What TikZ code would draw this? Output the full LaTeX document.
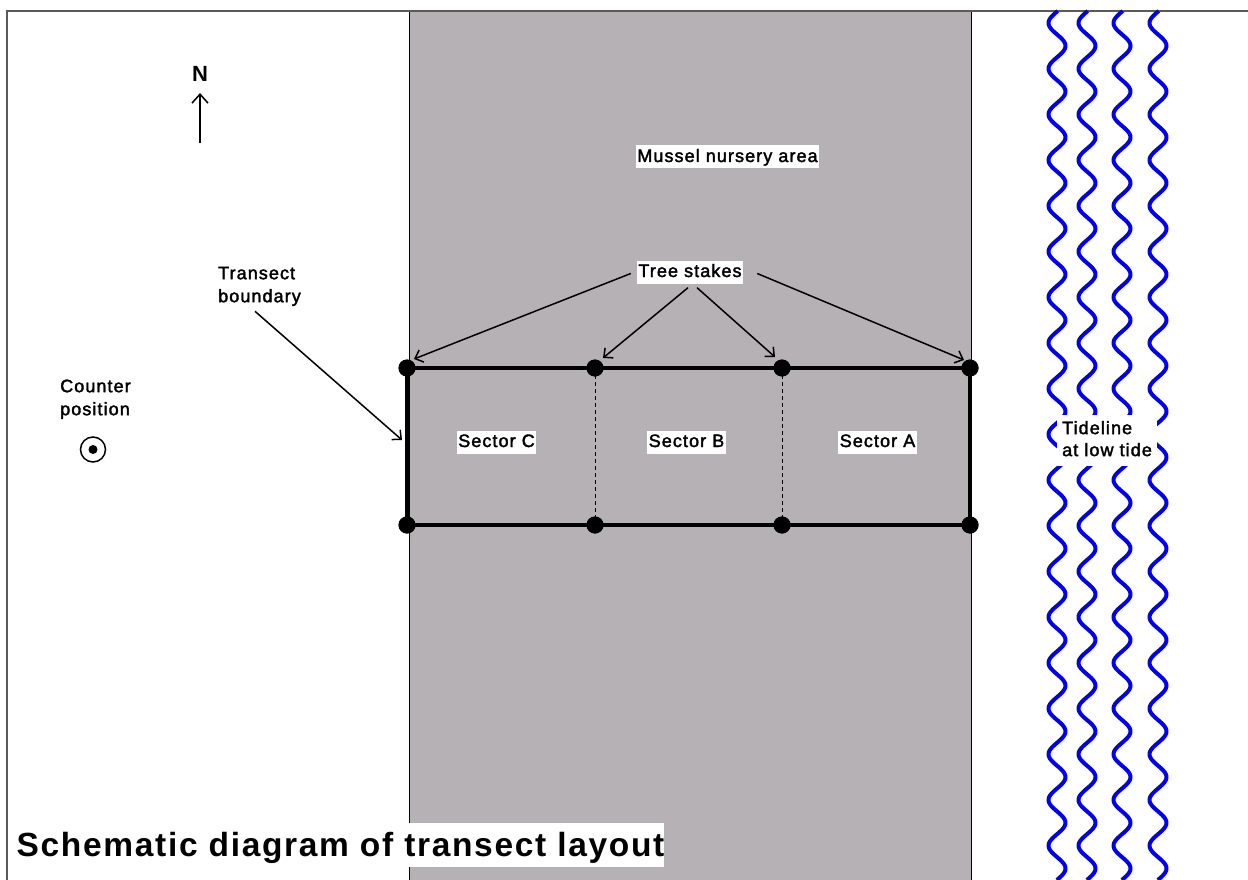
\documentclass[tikz,border=0pt]{standalone}
\usepackage{fontspec}
\setmainfont{Liberation Sans}
\newfontfamily\lblfont[LetterSpace=6,FakeBold=2]{Liberation Sans}
\newfontfamily\ttlfont[LetterSpace=5]{Liberation Sans}
\usetikzlibrary{arrows.meta,calc}
\definecolor{bandgray}{RGB}{181,177,181}
\definecolor{framegray}{RGB}{90,90,90}
\definecolor{waveblue}{RGB}{0,0,235}
\tikzset{
  lbl/.style={font=\lblfont\fontsize{18}{23}\selectfont, inner sep=0pt},
  wlbl/.style={lbl, fill=white, text height=16pt, text depth=6pt, inner xsep=1.5pt, inner ysep=0.5pt},
  stake/.style={circle, fill=black, minimum size=17pt, inner sep=0pt},
  arr/.style={-{Straight Barb[length=7pt,width=13pt]}, line width=1.5pt},
  wave/.style={draw=waveblue, line width=4pt, line join=round},
  boxline/.style={line width=4pt, line join=miter},
  divline/.style={line width=0.9pt, dash pattern=on 4pt off 3pt}
}
\begin{document}
\begin{tikzpicture}[x=1pt,y=-1pt]
\useasboundingbox (0,0) rectangle (1248,880);
\fill[white] (0,0) rectangle (1248,880);
% nursery band
\fill[bandgray] (409,11) rectangle (971,880);
\draw[line width=1pt] (409,11) -- (409,880) (971,11) -- (971,880);
% frame
\draw[framegray, line width=2pt] (7,880) -- (7,11) -- (1248,11);
% tidelines
\foreach \cx in {1057,1087,1122,1158}
  \draw[wave] plot[domain=11:880, samples=600, variable=\t] ({\cx-8.5*sin(7.8775*(\t-11.6))},{\t});
\node[lbl, fill=white, align=left, anchor=north west, inner xsep=5pt, inner ysep=3.5pt,
      font=\lblfont\fontsize{18}{22}\selectfont] (tide) at (1057,415) {\strut Tideline\\\strut at low tide};
% stakes
\node[stake] (s1) at (407,368) {};
\node[stake] (s2) at (595,368) {};
\node[stake] (s3) at (782,368) {};
\node[stake] (s4) at (970,368) {};
\node[stake] (b1) at (407,525) {};
\node[stake] (b2) at (595,525) {};
\node[stake] (b3) at (782,525) {};
\node[stake] (b4) at (970,525) {};
\draw[boxline] (s1.center) -- (s4.center) -- (b4.center) -- (b1.center) -- cycle;
\draw[divline] (s2.center) -- (b2.center);
\draw[divline] (s3.center) -- (b3.center);
\foreach \n in {s1,s2,s3,s4,b1,b2,b3,b4} \fill (\n) circle (8.5pt);
% labels
\node[wlbl, anchor=base] (mussel) at (727.5,162) {Mussel nursery area};
\node[wlbl, anchor=base] (ts) at (690,277) {Tree stakes};
\node[wlbl, anchor=base] (secC) at (496.5,447) {Sector C};
\node[wlbl, anchor=base] (secB) at (686.5,447) {Sector B};
\node[wlbl, anchor=base] (secA) at (877.5,447) {Sector A};
\node[lbl, align=left, anchor=north west] (tb) at (218,262.9) {\strut Transect\\\strut boundary};
\node[lbl, align=left, anchor=north west] (cp) at (60,375.9) {\strut Counter\\\strut position};
% counter symbol
\node[circle, draw, line width=1.5pt, minimum size=25pt, inner sep=0pt] (ctr) at (93,449.5) {};
\fill (ctr.center) circle (4.5pt);
% north
\node[font=\bfseries\fontsize{22}{26}\selectfont, inner sep=0pt, anchor=base] (north) at (200,82) {N};
\coordinate (ntail) at (200,143);
\coordinate (nhead) at (200,93);
\draw[-{Straight Barb[length=9pt,width=16pt]}, line width=1.5pt] (ntail) -- (nhead);
% arrows
\draw[arr] ($(ts.west)+(-6,1.5)$) -- ($(s1)+(7,-9)$);
\draw[arr] ($(ts.south)+(-2,4)$) -- ($(s2)+(8,-10)$);
\draw[arr] ($(ts.south)+(7,4)$) -- ($(s3)+(-7,-11)$);
\draw[arr] ($(ts.east)+(14,1.5)$) -- ($(s4)+(-6,-8)$);
\coordinate (tbend) at (402,440);
\draw[arr] ($(tb.south)+(-4.5,2)$) -- (tbend);
% title
\node[font=\ttlfont\bfseries\fontsize{33.5}{40}\selectfont, fill=white, inner xsep=0pt, inner ysep=0pt,
      text height=33pt, text depth=11pt, anchor=base west] (title) at (16.5,856) {Schematic diagram of transect layout};
\end{tikzpicture}
\end{document}
